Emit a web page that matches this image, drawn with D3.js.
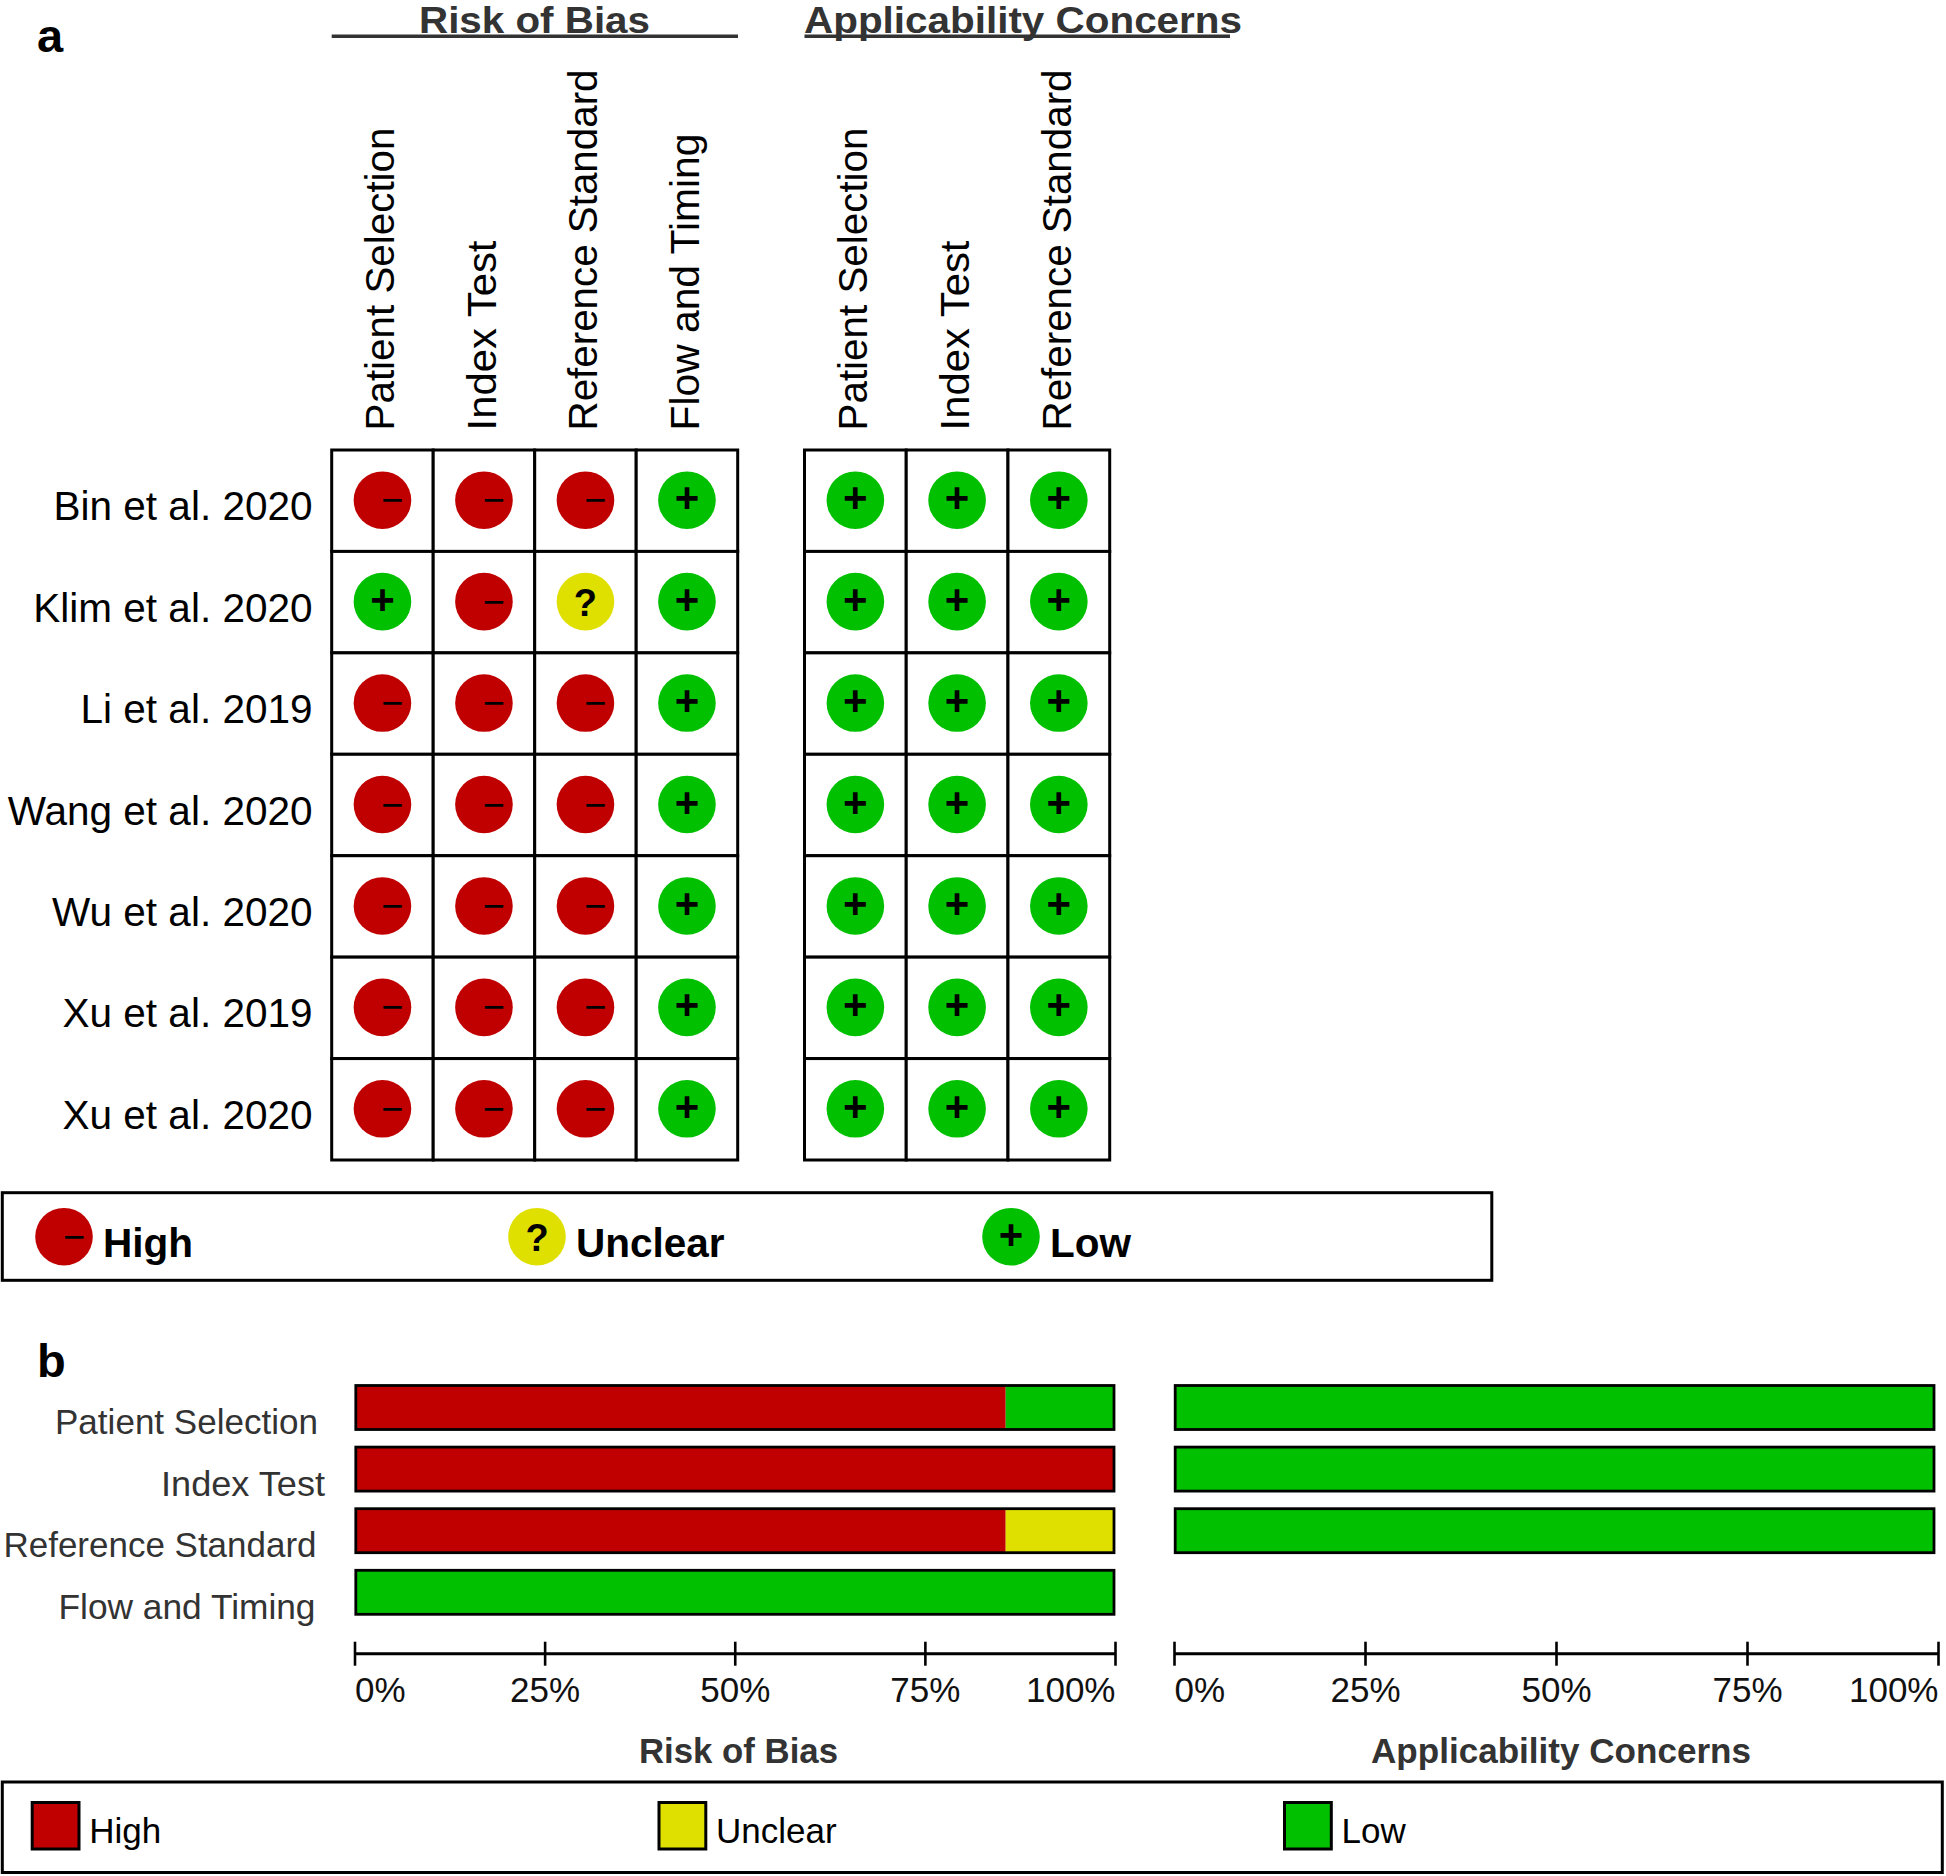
<!DOCTYPE html>
<html><head><meta charset="utf-8">
<script src="https://cdn.jsdelivr.net/npm/d3@7"></script>
<style>html,body{margin:0;padding:0;background:#fff}svg{display:block}text{font-family:"Liberation Sans",Arial,sans-serif}</style>
</head><body><svg id="c" width="1946" height="1876"></svg>
<script>
const studies = ["Bin et al. 2020","Klim et al. 2020","Li et al. 2019","Wang et al. 2020","Wu et al. 2020","Xu et al. 2019","Xu et al. 2020"];
const riskDomains = ["Patient Selection","Index Test","Reference Standard","Flow and Timing"];
const applicabilityDomains = ["Patient Selection","Index Test","Reference Standard"];
const levels = ["High","Unclear","Low"];
// judgement per study (rows) and domain (columns)
const riskPatientSelection = ["High","Low","High","High","High","High","High"];
const riskIndexTest = ["High","High","High","High","High","High","High"];
const riskReferenceStandard = ["High","Unclear","High","High","High","High","High"];
const riskFlowTiming = ["Low","Low","Low","Low","Low","Low","Low"];
const appPatientSelection = ["Low","Low","Low","Low","Low","Low","Low"];
const appIndexTest = ["Low","Low","Low","Low","Low","Low","Low"];
const appReferenceStandard = ["Low","Low","Low","Low","Low","Low","Low"];
const percentTicks = [0,25,50,75,100];

const riskColumns = [riskPatientSelection,riskIndexTest,riskReferenceStandard,riskFlowTiming];
const appColumns = [appPatientSelection,appIndexTest,appReferenceStandard];

const colour = {High:"#c00000",Unclear:"#e0e000",Low:"#00c000"};
const svg = d3.select("#c");
const FONT_DARK="#333";

function txt(g,x,y,s,o={}){
  const t=g.append("text").attr("x",x).attr("y",y).text(s)
    .attr("font-size",o.size||35).attr("font-weight",o.bold?"bold":"normal")
    .attr("fill",o.fill||"#000").attr("text-anchor",o.anchor||"start");
  if(o.len) t.attr("textLength",o.len).attr("lengthAdjust","spacingAndGlyphs");
  return t;
}
function glyph(g,cx,cy,level){
  g.append("circle").attr("cx",cx).attr("cy",cy).attr("r",28.8).attr("fill",colour[level]);
  if(level==="High") txt(g,cx+10,cy+13,"\u2212",{size:38,anchor:"middle"});
  if(level==="Low") txt(g,cx,cy+12,"+",{size:42,bold:true,anchor:"middle"});
  if(level==="Unclear") txt(g,cx,cy+14,"?",{size:38,bold:true,anchor:"middle"});
}

/* ---------- panel a ---------- */
txt(svg,37,51.5,"a",{size:47,bold:true});
const rowY = d3.scaleBand().domain(studies).range([450,1160]);
const headLength={"Patient Selection":303,"Index Test":190,"Reference Standard":361,"Flow and Timing":297};
function grid(domains,columns,x0,x1,title,titleLen,titleX,ruleEnd){
  const g=svg.append("g");
  const x=d3.scaleBand().domain(domains).range([x0,x1]);
  txt(g,titleX,32.6,title,{size:36,bold:true,fill:FONT_DARK,len:titleLen});
  g.append("line").attr("x1",x0).attr("x2",ruleEnd).attr("y1",36.3).attr("y2",36.3).attr("stroke",FONT_DARK).attr("stroke-width",3.5);
  domains.forEach(d=>{
    const cx=x(d)+x.bandwidth()/2;
    g.append("text").attr("transform",`translate(${cx+12},430.5) rotate(-90)`).text(d).attr("font-size",41).attr("fill","#000")
      .attr("textLength",headLength[d]).attr("lengthAdjust","spacingAndGlyphs");
  });
  domains.forEach(d=>studies.forEach(s=>{
    g.append("rect").attr("x",x(d)).attr("y",rowY(s)).attr("width",x.bandwidth()).attr("height",rowY.bandwidth())
      .attr("fill","#fff").attr("stroke","#000").attr("stroke-width",3);
  }));
  domains.forEach((d,c)=>studies.forEach((s,r)=>{
    glyph(g,x(d)+x.bandwidth()/2,rowY(s)+rowY.bandwidth()/2-0.5,columns[c][r]);
  }));
}
grid(riskDomains,riskColumns,331.7,737.7,"Risk of Bias",231,419,738);
grid(applicabilityDomains,appColumns,804.5,1109.7,"Applicability Concerns",438,804,1230);
studies.forEach(s=>txt(svg,312.5,rowY(s)+rowY.bandwidth()/2+19.5,s,{size:40.5,anchor:"end"}));

function box(x,y,w,h){svg.append("rect").attr("x",x).attr("y",y).attr("width",w).attr("height",h).attr("fill","#fff").attr("stroke","#000").attr("stroke-width",3);}
box(2.3,1192.7,1489.5,87.6);
const legendA = d3.scaleOrdinal().domain(levels).range([64,537,1011]);
levels.forEach(l=>{
  const cx=legendA(l);
  glyph(svg,cx,1236.7,l);
  txt(svg,cx+39,1256.7,l,{size:40.5,bold:true});
});

/* ---------- panel b ---------- */
txt(svg,37,1376.5,"b",{size:47,bold:true});
const barY = d3.scaleBand().domain(riskDomains).range([1385.5,1385.5+61.6*3+44]).paddingInner(17.6/61.6).paddingOuter(0);
function shares(col){const t=col.length;return levels.map(l=>col.filter(v=>v===l).length/t*100);}
function bars(domains,columns,barRange,axisRange,title,titleCx,titleLen){
  const g=svg.append("g");
  const x=d3.scaleLinear().domain([0,100]).range(barRange);
  const rows=domains.map((d,i)=>{const o={domain:d};shares(columns[i]).forEach((v,k)=>o[levels[k]]=v);return o;});
  const stacked=d3.stack().keys(levels)(rows);
  stacked.forEach(layer=>{
    g.selectAll(null).data(layer).join("rect")
      .attr("x",d=>x(d[0])).attr("width",d=>x(d[1])-x(d[0]))
      .attr("y",d=>barY(d.data.domain)).attr("height",barY.bandwidth())
      .attr("fill",colour[layer.key]);
  });
  g.selectAll(null).data(rows).join("rect")
    .attr("x",x(0)).attr("width",x(100)-x(0)).attr("y",d=>barY(d.domain)).attr("height",barY.bandwidth())
    .attr("fill","none").attr("stroke","#000").attr("stroke-width",2.8);
  const ax=d3.scaleLinear().domain([0,100]).range(axisRange);
  const axis=d3.axisBottom(ax).tickValues(percentTicks).tickFormat(d=>d+"%").tickSize(12).tickPadding(0);
  const a=g.append("g").attr("transform","translate(0,1653.7)").call(axis);
  a.select(".domain").attr("stroke","#000").attr("stroke-width",3).attr("d",`M${axisRange[0]},0H${axisRange[1]}`);
  a.selectAll(".tick line").attr("y1",-12).attr("y2",12).attr("stroke","#000").attr("stroke-width",2.6);
  a.selectAll(".tick text").attr("font-size",35).attr("font-family","Liberation Sans").attr("fill","#111")
    .attr("dy",0).attr("y",48.4)
    .attr("text-anchor",d=>d===0?"start":d===100?"end":"middle");
  txt(g,titleCx,1763,title,{size:35,bold:true,fill:FONT_DARK,anchor:"middle",len:titleLen});
}
bars(riskDomains,riskColumns,[355.8,1114],[354.5,1115],"Risk of Bias",738.5,199);
bars(applicabilityDomains,appColumns,[1175.2,1934],[1174,1938],"Applicability Concerns",1561,380);
const labelRight={"Patient Selection":318,"Index Test":325,"Reference Standard":316.5,"Flow and Timing":315.5};
const labelLength={"Patient Selection":263,"Index Test":164,"Reference Standard":313,"Flow and Timing":257};
riskDomains.forEach(d=>txt(svg,labelRight[d],barY(d)+48.4,d,{size:35,anchor:"end",fill:FONT_DARK,len:labelLength[d]}));

box(2.3,1782,1940,90.5);
const legendB=d3.scaleOrdinal().domain(levels).range([32.2,659,1284.5]);
levels.forEach(l=>{
  const x=legendB(l);
  svg.append("rect").attr("x",x).attr("y",1802.5).attr("width",46.8).attr("height",46.5).attr("fill",colour[l]).attr("stroke","#000").attr("stroke-width",3);
  txt(svg,x+57,1842.5,l,{size:35});
});
</script></body></html>
